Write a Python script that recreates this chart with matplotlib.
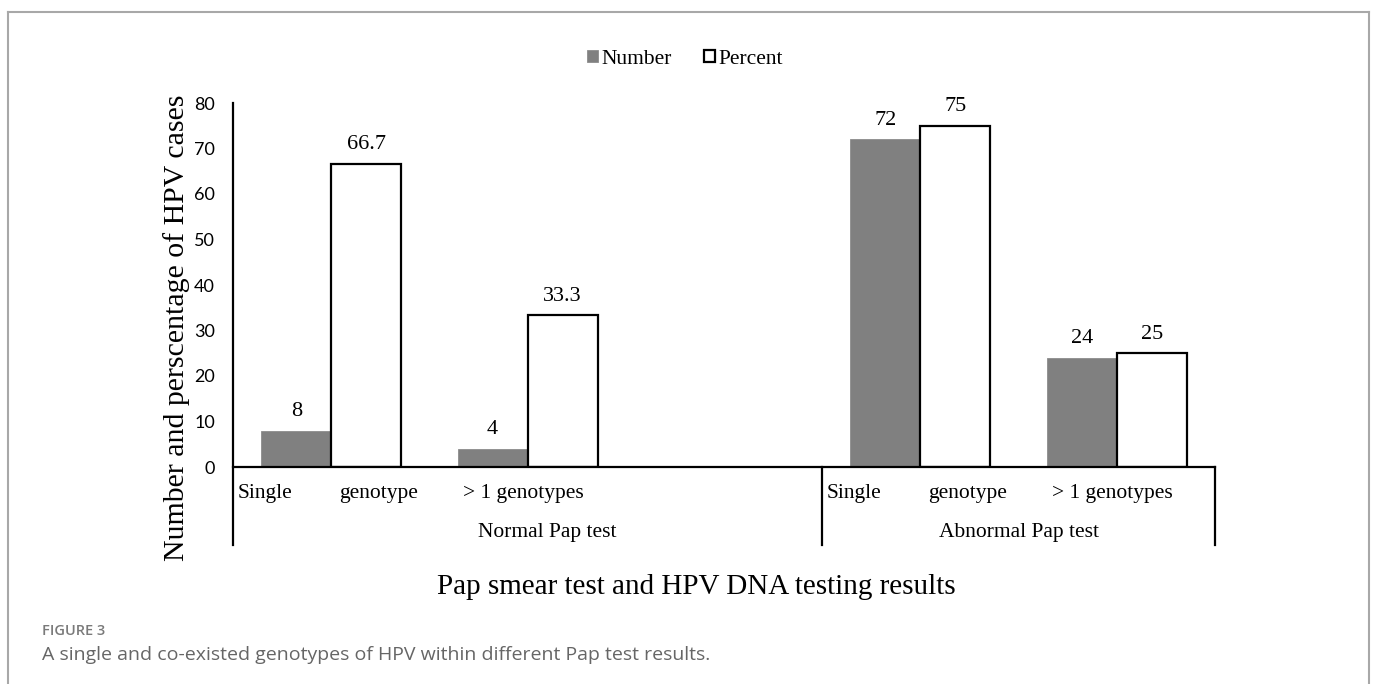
import numpy as np
import matplotlib.pyplot as plt
from matplotlib.lines import Line2D
from matplotlib.transforms import blended_transform_factory

plt.switch_backend('agg')

# HPV genotype counts and percentages by Pap test result
slots = ["Single genotype", "> 1 genotypes", "", "Single genotype", "> 1 genotypes"]
number = [8, 4, np.nan, 72, 24]
percent = [66.7, 33.3, np.nan, 75, 25]
groups = ["Normal Pap test", "Abnormal Pap test"]
group_edges = [-0.5, 2.5, 4.5]
group_label_x = [1.1, 3.5]
yticks = [0, 10, 20, 30, 40, 50, 60, 70, 80]

serif = "Liberation Serif"
sans = "Lato"

fig = plt.figure(figsize=(13.75, 6.84), dpi=100)
ax = fig.add_axes([233 / 1375, 1 - 467 / 684, 982 / 1375, 364 / 684])

x = np.arange(len(slots))
w = 0.356
b1 = ax.bar(x - w / 2, number, w, color="#808080", edgecolor="#8c8c8c", linewidth=0.6, label="Number")
b2 = ax.bar(x + w / 2, percent, w, color="white", edgecolor="black", linewidth=1.6, label="Percent")

for xs, vals in ((x - w / 2, number), (x + w / 2, percent)):
    for xi, v in zip(xs, vals):
        if np.isnan(v):
            continue
        ax.annotate(f"{v:g}", (xi, v), xytext=(0, 7), textcoords="offset points",
                    ha="center", va="bottom", fontsize=16, family=serif)

ax.set_xlim(-0.5, 4.5)
ax.set_ylim(0, 80)
ax.set_yticks(yticks)
ax.set_yticklabels([str(t) for t in yticks], fontsize=13, family=sans)
ax.tick_params(axis="y", length=0, pad=13)
ax.set_xticks([])
for s in ax.spines.values():
    s.set_visible(False)

tr = blended_transform_factory(ax.transData, ax.transAxes)
# zero line and vertical axis
ax.plot([-0.5, 4.5], [0, 0], color="black", lw=1.6, transform=tr, clip_on=False)
ax.plot([-0.5, -0.5], [1, -0.214], color="black", lw=1.6, transform=tr, clip_on=False)
for e in group_edges[1:]:
    ax.plot([e, e], [0, -0.214], color="black", lw=1.6, transform=tr, clip_on=False)

# category labels under the axis
lab_size = 15.5
for xi, lab in zip(x, slots):
    if not lab:
        continue
    words = lab.split(" ")
    if words[0] == "Single":
        ax.text(xi - 0.475, -0.072, words[0], transform=tr, ha="left", va="center",
                fontsize=lab_size, family=serif)
        ax.text(xi + 0.24, -0.072, words[1], transform=tr, ha="center", va="center",
                fontsize=lab_size, family=serif)
    else:
        ax.text(xi - 0.02, -0.072, lab, transform=tr, ha="center", va="center",
                fontsize=lab_size, family=serif)

for gx, g in zip(group_label_x, groups):
    ax.text(gx, -0.179, g, transform=tr, ha="center", va="center", fontsize=lab_size, family=serif)

fig.text(190 / 1375, 1 - 328 / 684, "Number and perscentage of HPV cases", rotation=90,
         ha="right", va="center", fontsize=21.5, family=serif)
fig.text(696 / 1375, 1 - 587 / 684, "Pap smear test and HPV DNA testing results",
         ha="center", va="center", fontsize=21, family=serif)

leg = fig.legend(handles=[b1, b2], labels=["Number", "Percent"], loc="center",
                 bbox_to_anchor=(685 / 1375, 1 - 59 / 684), ncol=2, frameon=False,
                 handlelength=0.5, handleheight=0.5, handletextpad=0.15, columnspacing=1.5,
                 prop={"family": serif, "size": 15.5})

# figure caption
fig.text(42 / 1375, 1 - 631 / 684, "FIGURE 3", ha="left", va="center", fontsize=10.5,
         family="Open Sans", fontweight="semibold", color="#7a7a7a")
fig.text(42 / 1375, 1 - 655 / 684,
         "A single and co-existed genotypes of HPV within different Pap test results.",
         ha="left", va="center", fontsize=14, family="Open Sans", color="#666666")

# panel border
bc = "#a8a8a8"
fig.add_artist(Line2D([8 / 1375, 8 / 1375], [0, 1 - 12 / 684], color=bc, lw=1.5, transform=fig.transFigure))
fig.add_artist(Line2D([8 / 1375, 1369 / 1375], [1 - 12 / 684, 1 - 12 / 684], color=bc, lw=1.5, transform=fig.transFigure))
fig.add_artist(Line2D([1369 / 1375, 1369 / 1375], [0, 1 - 12 / 684], color=bc, lw=1.5, transform=fig.transFigure))

fig.savefig("out.png", dpi=100)
